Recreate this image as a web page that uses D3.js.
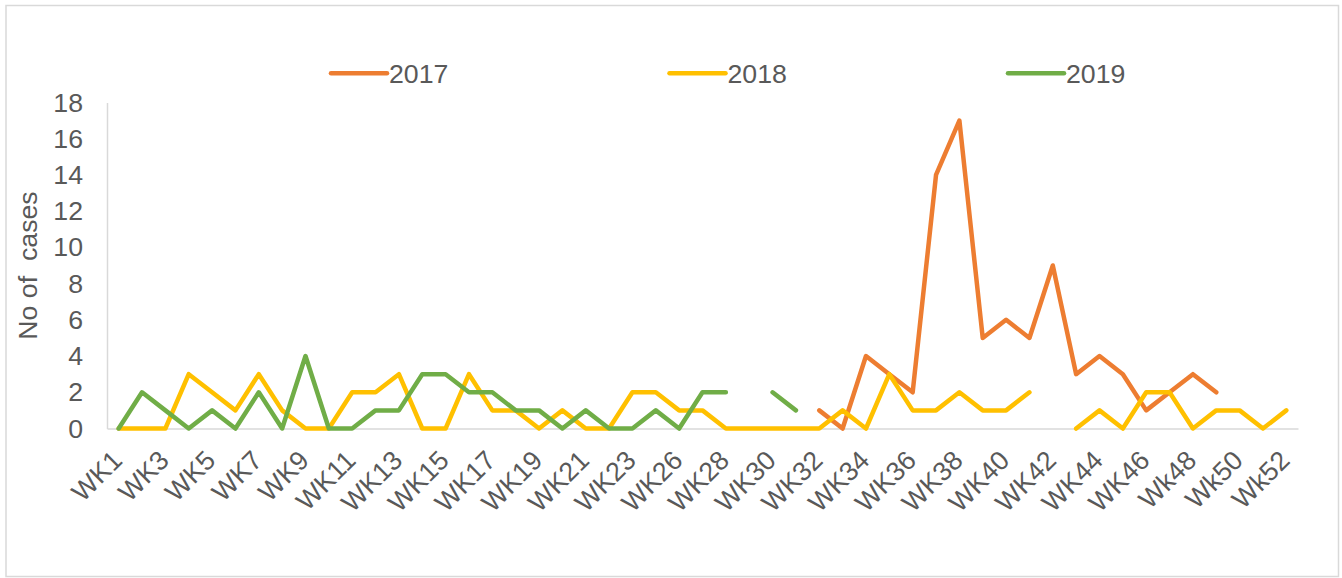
<!DOCTYPE html>
<html>
<head>
<meta charset="utf-8">
<script src="https://cdn.jsdelivr.net/npm/d3@7"></script>
<style>
  html, body { margin: 0; padding: 0; background: #fff; }
  svg { display: block; }
  text { font-family: "Liberation Sans", Arial, sans-serif; fill: #595959; }
</style>
</head>
<body>
<svg id="chart" width="1342" height="578"></svg>
<script>
// ---- data ----
const weeks = [
  "WK1","WK2","WK3","WK4","WK5","WK6","WK7","WK8","WK9","WK10",
  "WK11","WK12","WK13","WK14","WK15","WK16","WK17","WK18","WK19","WK20",
  "WK21","WK22","WK23","WK24","WK26","WK27","WK28","WK29","WK30","WK31",
  "WK32","WK33","WK34","WK35","WK36","WK37","WK38","WK39","WK40","WK41",
  "WK42","WK43","WK44","WK45","WK46","Wk47","Wk48","Wk49","Wk50","Wk51","Wk52"
];
const seriesNames = ["2017", "2018", "2019"];
const cases2017 = [
  null,null,null,null,null,null,null,null,null,null,
  null,null,null,null,null,null,null,null,null,null,
  null,null,null,null,null,null,null,null,null,null,
  1,0,4,3,2,14,17,5,6,5,
  9,3,4,3,1,2,3,2,null,null,null
];
const cases2018 = [
  0,0,0,3,2,1,3,1,0,0,
  2,2,3,0,0,3,1,1,0,1,
  0,0,2,2,1,1,0,0,0,0,
  0,1,0,3,1,1,2,1,1,2,
  null,0,1,0,2,2,0,1,1,0,1
];
const cases2019 = [
  0,2,1,0,1,0,2,0,4,0,
  0,1,1,3,3,2,2,1,1,0,
  1,0,0,1,0,2,2,null,2,1,
  null,null,null,null,null,null,null,null,null,null,
  null,null,null,null,null,null,null,null,null,null,null
];
const yTicks = [0,2,4,6,8,10,12,14,16,18];
const yTitle = "No of  cases";
const colors = ["#ED7D31", "#FFC000", "#70AD47"];

// ---- layout ----
const svg = d3.select("#chart");
const plot = { left: 107, right: 1298, top: 102.5, bottom: 428.5 };
const fontSize = 26.7;

svg.append("rect")
  .attr("x", 6).attr("y", 5.5)
  .attr("width", 1332.5).attr("height", 571)
  .attr("fill", "#fff").attr("stroke", "#d9d9d9").attr("stroke-width", 1.5);

const x = d3.scalePoint().domain(weeks).range([plot.left, plot.right]).padding(0.5);
const y = d3.scaleLinear().domain([0, 18]).range([plot.bottom, plot.top]);

// y axis
const yAxis = svg.append("g").attr("transform", `translate(${plot.left},0)`)
  .call(d3.axisLeft(y).tickValues(yTicks).tickSize(0).tickPadding(24).tickFormat(d3.format("d")));
yAxis.select(".domain").attr("stroke", "#d9d9d9").attr("stroke-width", 1.5);
yAxis.selectAll("text").style("font-size", fontSize + "px").attr("fill", "#595959")
  .attr("font-family", "Liberation Sans, Arial, sans-serif");

// x axis baseline
const xAxis = svg.append("g").attr("transform", `translate(0,${plot.bottom})`)
  .call(d3.axisBottom(x).tickValues(weeks.filter((d, i) => i % 2 === 0)).tickSize(0).tickFormat(""));
xAxis.select(".domain").attr("stroke", "#d9d9d9").attr("stroke-width", 1.5);

// x labels rotated
svg.append("g").selectAll("text")
  .data(weeks.filter((d, i) => i % 2 === 0))
  .join("text")
  .attr("transform", d => `translate(${x(d) + 5},462) rotate(-45)`)
  .attr("text-anchor", "end")
  .style("font-size", fontSize + "px")
  .text(d => d);

// y title
svg.append("text")
  .attr("transform", `translate(37,${(plot.top + plot.bottom) / 2}) rotate(-90)`)
  .attr("text-anchor", "middle")
  .style("font-size", fontSize + "px")
  .style("white-space", "pre")
  .attr("xml:space", "preserve")
  .text(yTitle);

// lines
const allSeries = [cases2017, cases2018, cases2019];
const line = d3.line()
  .defined(d => d.v != null)
  .x(d => x(d.w))
  .y(d => y(d.v));

allSeries.forEach((vals, si) => {
  svg.append("path")
    .datum(vals.map((v, i) => ({ w: weeks[i], v })))
    .attr("fill", "none")
    .attr("stroke", colors[si])
    .attr("stroke-width", 4.5)
    .attr("stroke-linejoin", "round")
    .attr("stroke-linecap", "round")
    .attr("d", line);
});

// legend
const legendX = [331, 669.5, 1008];
const lg = svg.append("g");
seriesNames.forEach((name, i) => {
  lg.append("line")
    .attr("x1", legendX[i]).attr("x2", legendX[i] + 56)
    .attr("y1", 73.3).attr("y2", 73.3)
    .attr("stroke", colors[i]).attr("stroke-width", 4.5)
    .attr("stroke-linecap", "round");
  lg.append("text")
    .attr("x", legendX[i] + 58).attr("y", 83)
    .style("font-size", fontSize + "px")
    .text(name);
});
</script>
</body>
</html>
